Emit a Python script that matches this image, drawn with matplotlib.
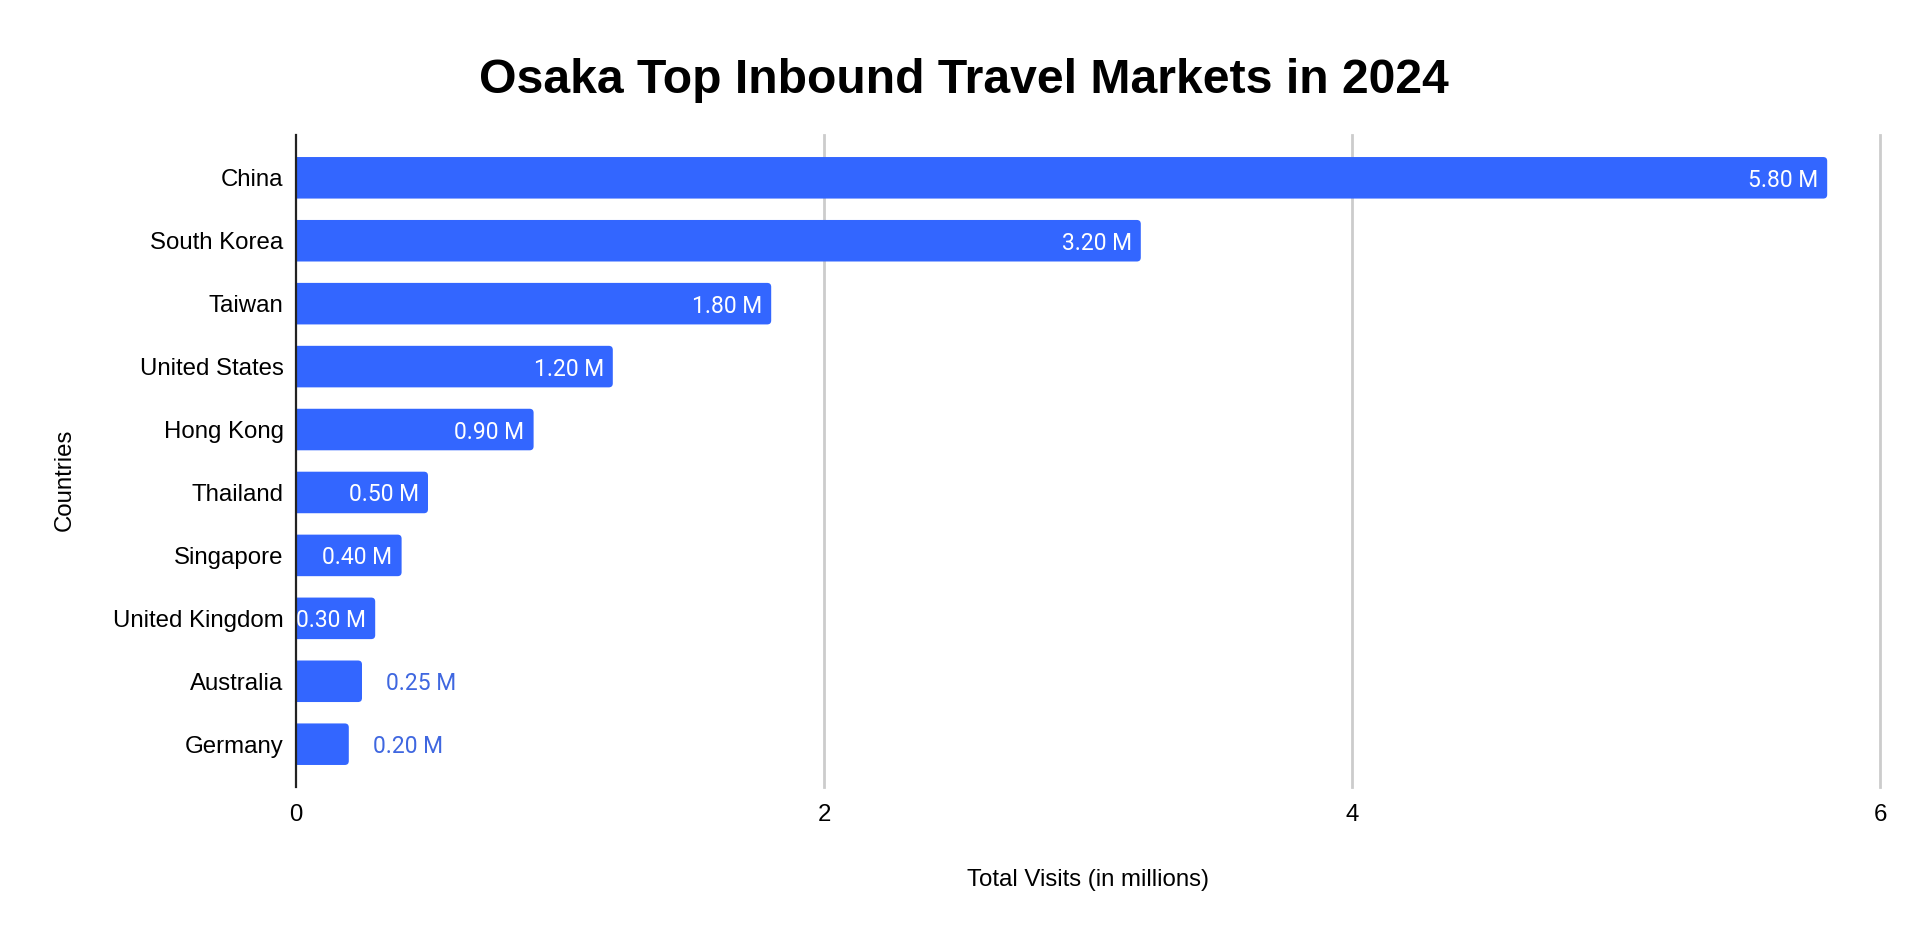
import matplotlib
matplotlib.use("Agg")
import matplotlib.pyplot as plt
from matplotlib.patches import FancyBboxPatch

plt.rcParams['font.family'] = ['Liberation Sans', 'DejaVu Sans']

countries = ["China", "South Korea", "Taiwan", "United States", "Hong Kong",
             "Thailand", "Singapore", "United Kingdom", "Australia", "Germany"]
visits = [5.80, 3.20, 1.80, 1.20, 0.90, 0.50, 0.40, 0.30, 0.25, 0.20]
xticks = [0, 2, 4, 6]

BAR = "#3366ff"
LABEL_OUT = "#3f67e0"

fig = plt.figure(figsize=(19.28, 9.4), dpi=100)
ax = fig.add_axes([296/1928, 1-787/940, 1584/1928, 652/940])

ax.set_xlim(0, 6)
ax.set_ylim(9.68, -0.68)

# pixel sizes in data units, used for the rounded bar ends
xpp = 6 / 1584
ypp = 10.36 / 652
bh = 0.66
rad = 4 * xpp

for i, v in enumerate(visits):
    # start left of zero so the left corners get clipped off by the axes
    p = FancyBboxPatch((-3 * rad, i - bh/2), v + 3 * rad, bh,
                       boxstyle="round,pad=0,rounding_size=%f" % rad,
                       mutation_aspect=ypp/xpp, fc=BAR, ec="none", zorder=3)
    ax.add_patch(p)
    txt = "%.2f M" % v
    if v >= 0.3:
        ax.text(v - 9*xpp, i + 0.04, txt, ha="right", va="center", color="white",
                fontsize=16.5, family="Roboto", zorder=4)
    else:
        ax.text(v + 24*xpp, i + 0.04, txt, ha="left", va="center", color=LABEL_OUT,
                fontsize=16.5, family="Roboto", zorder=4)

ax.set_yticks(range(len(countries)))
ax.set_yticklabels(countries, fontsize=17.3)
ax.set_xticks(xticks)
ax.set_xticklabels([str(t) for t in xticks], fontsize=17.3)
ax.tick_params(length=0)
ax.tick_params(axis="x", pad=12)
ax.tick_params(axis="y", pad=9)

for t in xticks[1:]:
    ax.axvline(t, color="#cccccc", linewidth=2, zorder=0, clip_on=False)
for s in ["top", "right", "bottom"]:
    ax.spines[s].set_visible(False)
ax.spines["left"].set_linewidth(1.6)
ax.spines["left"].set_color("#222222")
ax.spines["left"].set_zorder(5)

fig.text(0.5, 1 - 93/940, "Osaka Top Inbound Travel Markets in 2024",
         ha="center", va="baseline", fontsize=34.7, fontweight="bold")
fig.text((296 + 1880) / 2 / 1928, 1 - 880/940, "Total Visits (in millions)",
         ha="center", va="center", fontsize=17.3)
fig.text(65/1928, 1 - 480/940, "Countries", ha="center", va="center",
         rotation=90, fontsize=17.3)

fig.savefig("out.png", dpi=100)
